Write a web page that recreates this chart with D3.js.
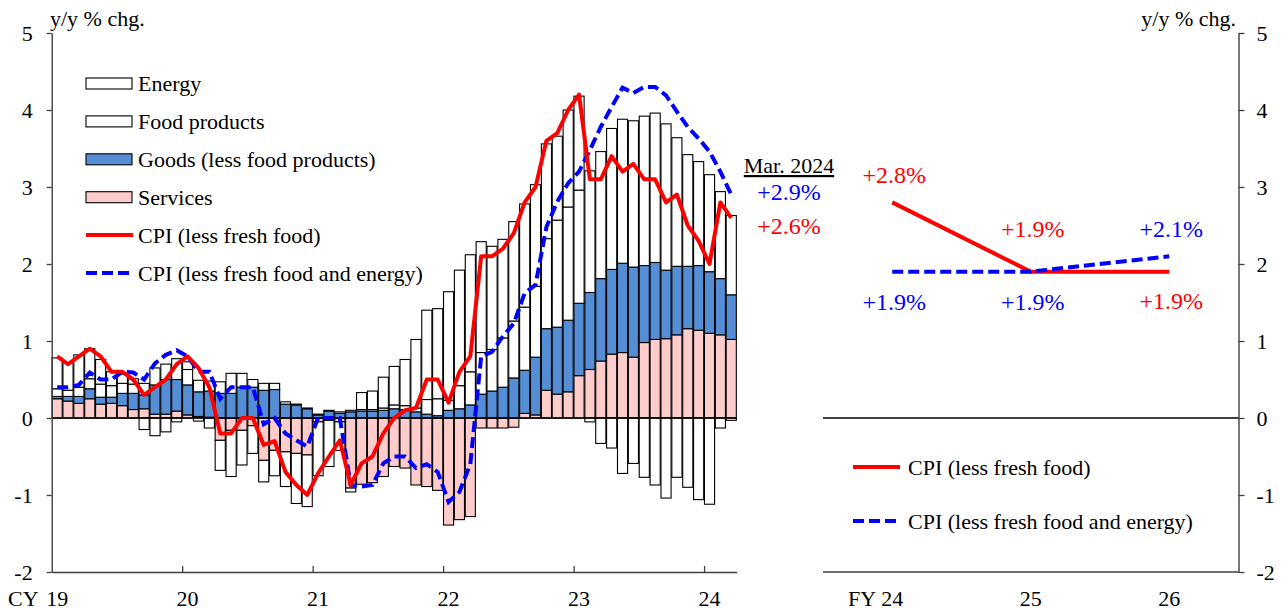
<!DOCTYPE html>
<html><head><meta charset="utf-8">
<script src="https://cdn.jsdelivr.net/npm/d3@7"></script>
<style>
body{margin:0;background:#fff;}
svg{display:block;font-family:"Liberation Serif","Times New Roman",serif;}
svg text{font-family:"Liberation Serif","Times New Roman",serif;}
</style>
</head><body>
<svg id="c" width="1282" height="612"></svg>
<script>
// ---------- DATA ----------
const months = d3.timeMonths(new Date(2019,0,1), new Date(2024,3,1)); // Jan 2019 .. Mar 2024
const yearLabels = ["19","20","21","22","23","24"];
const yTicks = [-2,-1,0,1,2,3,4,5];

const services = [0.25,0.22,0.19,0.25,0.18,0.19,0.16,0.11,0.12,0.05,0.05,0.09,
  0.04,0.02,0.01,-0.29,-0.16,-0.16,-0.10,-0.55,-0.42,-0.44,-0.46,-0.48,
  -0.05,-0.03,-0.05,-0.91,-0.86,-0.84,-0.76,-0.63,-0.65,-0.87,-0.89,-0.94,
  -1.39,-1.32,-1.28,-0.13,-0.13,-0.13,-0.12,0.06,0.04,0.36,0.31,0.34,
  0.55,0.63,0.74,0.83,0.85,0.79,0.98,1.02,1.03,1.08,1.16,1.14,
  1.10,1.08,1.02];
const goods = [0.03,0.06,0.09,0.13,0.09,0.08,0.16,0.21,0.18,0.38,0.45,0.41,
  0.39,0.32,0.34,0.32,0.32,0.40,0.40,0.36,0.37,0.18,0.17,0.12,
  0.04,0.09,0.06,0.08,0.09,0.09,0.10,0.12,0.11,0.08,0.05,0.03,
  0.10,0.12,0.17,0.31,0.35,0.40,0.52,0.56,0.75,0.80,0.87,0.93,
  0.94,1.00,1.07,1.10,1.16,1.17,1.00,1.00,0.89,0.89,0.81,0.84,
  0.80,0.73,0.58];
const food = [0.10,0.08,0.12,0.13,0.17,0.15,0.13,0.12,0.15,0.22,0.20,0.27,
  0.20,0.15,0.13,0.15,0.26,0.18,0.10,0.09,0.08,0.03,0.01,0.01,
  0.01,0.01,0.02,0.02,0.02,0.02,0.03,0.05,0.05,0.05,0.19,0.22,
  0.13,0.30,0.43,0.54,0.54,0.64,0.74,0.82,0.92,1.17,1.39,1.47,
  1.47,1.58,1.65,1.83,1.87,1.90,1.94,1.94,1.90,1.67,1.45,1.35,
  1.26,1.13,1.03];
const energy = [0.40,0.36,0.42,0.39,0.32,0.18,0.12,0.07,-0.15,-0.23,-0.18,-0.05,
  0.10,-0.04,-0.13,-0.39,-0.60,-0.45,-0.36,-0.28,-0.33,-0.45,-0.65,-0.67,
  -0.70,-0.60,-0.37,-0.05,0.22,0.24,0.40,0.50,0.60,0.89,1.16,1.17,
  1.41,1.50,1.52,1.44,1.34,1.28,1.29,1.34,1.32,1.23,1.09,1.26,
  1.22,-0.05,-0.33,-0.39,-0.72,-0.59,-0.77,-0.87,-1.04,-0.77,-0.90,-1.06,
  -1.12,-0.13,-0.03];
const cpiCore = [0.8,0.7,0.8,0.9,0.8,0.6,0.6,0.5,0.3,0.4,0.5,0.7,
  0.8,0.65,0.4,-0.2,-0.2,0.0,0.0,-0.35,-0.3,-0.7,-0.87,-1.0,
  -0.72,-0.5,-0.29,-0.87,-0.59,-0.5,-0.2,0.0,0.1,0.13,0.5,0.5,
  0.2,0.6,0.8,2.1,2.1,2.2,2.4,2.8,3.0,3.6,3.7,4.0,
  4.2,3.1,3.1,3.4,3.2,3.3,3.1,3.1,2.8,2.9,2.5,2.3,
  2.0,2.8,2.6];
const cpiCoreCore = [0.4,0.4,0.43,0.59,0.5,0.5,0.6,0.59,0.5,0.71,0.82,0.88,
  0.8,0.6,0.6,0.25,0.4,0.4,0.4,-0.08,0.0,-0.2,-0.29,-0.37,
  0.0,0.0,0.0,-0.87,-0.89,-0.87,-0.59,-0.5,-0.5,-0.65,-0.6,-0.7,
  -1.09,-0.96,-0.6,0.8,0.86,1.06,1.23,1.62,1.73,2.48,2.81,3.05,
  3.2,3.48,3.78,4.04,4.29,4.22,4.30,4.30,4.19,3.98,3.78,3.63,
  3.46,3.2,2.9];

const fyCats = ["24","25","26"];
const fyCore = [2.8,1.9,1.9];
const fyCoreCore = [1.9,1.9,2.1];

const seriesKeys = ["services","goods","food","energy"];
const legendLabels = ["Energy","Food products","Goods (less food products)","Services",
  "CPI (less fresh food)","CPI (less fresh food and energy)"];

// ---------- STYLE ----------
const colors = {services:"#FFCCCC", goods:"#558ED5", food:"#FFFFFF", energy:"#FFFFFF"};
const RED = "#FF0000", BLUE = "#0000FF", AXIS = "#404040";
const FONT = "Liberation Serif, Times New Roman, serif";
const FS = 22, FSP = 24;
const DASH = "11,5";

const svg = d3.select("#c").attr("font-family", FONT);

// ---------- SCALES ----------
const y = d3.scaleLinear().domain([-2,5]).range([572,33]);
const x = d3.scaleBand().domain(d3.range(months.length)).range([51.7,736.7])
  .paddingInner(0.07).paddingOuter(0.035);
const xLin = d3.scaleLinear().domain([0, months.length]).range([51.7,736.7]);
const xr = d3.scaleBand().domain(fyCats).range([823,1238.5]);
const cx = i => x(i) + x.bandwidth()/2;
const cxr = c => xr(c) + xr.bandwidth()/2;

// ---------- BARS ----------
const rows = months.map((m,i)=>({services:services[i],goods:goods[i],food:food[i],energy:energy[i]}));
const stacked = d3.stack().keys(seriesKeys).offset(d3.stackOffsetDiverging)(rows);

const barG = svg.append("g");
stacked.forEach(s=>{
  barG.selectAll(null).data(s.map((d,i)=>({d0:d[0],d1:d[1],i}))
      .filter(d=>Math.abs(d.d1-d.d0)>0.001))
    .join("rect")
    .attr("x", d=>x(d.i))
    .attr("width", x.bandwidth())
    .attr("y", d=>y(Math.max(d.d0,d.d1)))
    .attr("height", d=>Math.abs(y(d.d0)-y(d.d1)))
    .attr("fill", colors[s.key])
    .attr("stroke","#000")
    .attr("stroke-width",1.1);
});

// zero lines
svg.append("line").attr("x1",51.7).attr("x2",736.7).attr("y1",y(0)).attr("y2",y(0))
  .attr("stroke","#000").attr("stroke-width",1.6);
svg.append("line").attr("x1",823).attr("x2",1238.5).attr("y1",y(0)).attr("y2",y(0))
  .attr("stroke","#000").attr("stroke-width",1.3);

// ---------- LINES ----------
const line = d3.line().x((d,i)=>cx(i)).y(d=>y(d));
svg.append("path").datum(cpiCoreCore).attr("d",line).attr("fill","none")
  .attr("stroke",BLUE).attr("stroke-width",4).attr("stroke-dasharray",DASH);
svg.append("path").datum(cpiCore).attr("d",line).attr("fill","none")
  .attr("stroke",RED).attr("stroke-width",4).attr("stroke-linejoin","round");

const lineR = d3.line().x((d,i)=>cxr(fyCats[i])).y(d=>y(d));
svg.append("path").datum(fyCore).attr("d",lineR).attr("fill","none")
  .attr("stroke",RED).attr("stroke-width",4);
svg.append("path").datum(fyCoreCore).attr("d",lineR).attr("fill","none")
  .attr("stroke",BLUE).attr("stroke-width",4).attr("stroke-dasharray",DASH);

// ---------- AXES ----------
function styleAxis(g){
  g.attr("font-family",FONT).attr("font-size",FS);
  g.select(".domain").attr("stroke",AXIS).attr("stroke-width",1.4);
  g.selectAll(".tick line").attr("stroke",AXIS).attr("stroke-width",1.3);
  g.selectAll("text").attr("fill","#000");
}
svg.append("g").attr("transform","translate(51.7,0)")
  .call(d3.axisLeft(y).tickValues(yTicks).tickSize(5).tickSizeOuter(0).tickPadding(14).tickFormat(d=>String(d)))
  .call(styleAxis);
svg.append("g").attr("transform","translate(1238.5,0)")
  .call(d3.axisRight(y).tickValues(yTicks).tickSize(6).tickSizeOuter(0).tickPadding(12).tickFormat(d=>String(d)))
  .call(styleAxis);
svg.append("g").attr("transform","translate(0,572)")
  .call(d3.axisBottom(xLin).tickValues(d3.range(12, months.length, 12)).tickSize(-6).tickSizeOuter(0).tickFormat(""))
  .call(styleAxis);
svg.append("line").attr("x1",823).attr("x2",1238.5).attr("y1",572).attr("y2",572)
  .attr("stroke",AXIS).attr("stroke-width",1.4);

// x labels
const labG = svg.append("g").attr("font-size",FS).attr("font-family",FONT);
labG.selectAll(null).data(yearLabels).join("text")
  .attr("x",(d,k)=>cx(k*12)).attr("y",606).attr("text-anchor","middle").text(d=>d);
labG.append("text").attr("x",8).attr("y",606).text("CY");
labG.selectAll(null).data(fyCats).join("text")
  .attr("x",d=>cxr(d)).attr("y",606).attr("text-anchor","middle").text(d=>d);
labG.append("text").attr("x",848).attr("y",606).text("FY");

// unit labels
labG.append("text").attr("x",50).attr("y",26).text("y/y % chg.");
labG.append("text").attr("x",1236).attr("y",26).attr("text-anchor","end").text("y/y % chg.");

// ---------- LEGEND (left) ----------
const legG = svg.append("g").attr("font-size",FS).attr("font-family",FONT);
const legFill = [colors.energy, colors.food, colors.goods, colors.services];
legendLabels.forEach((lab,i)=>{
  const cy = 83.5 + 37.9*i;
  if(i<4){
    legG.append("rect").attr("x",86).attr("y",cy-5.5).attr("width",46).attr("height",11)
      .attr("fill",legFill[i]).attr("stroke","#000").attr("stroke-width",1.1);
  } else {
    legG.append("line").attr("x1",86).attr("x2",133).attr("y1",cy).attr("y2",cy)
      .attr("stroke", i===4?RED:BLUE).attr("stroke-width",4)
      .attr("stroke-dasharray", i===4?null:DASH);
  }
  legG.append("text").attr("x",138).attr("y",cy+7.5).text(lab);
});

// ---------- LEGEND (right) ----------
[[4,467],[5,521]].forEach(([i,cy])=>{
  legG.append("line").attr("x1",853).attr("x2",900).attr("y1",cy).attr("y2",cy)
    .attr("stroke", i===4?RED:BLUE).attr("stroke-width",4)
    .attr("stroke-dasharray", i===4?null:DASH);
  legG.append("text").attr("x",908).attr("y",cy+7.5).text(legendLabels[i]);
});

// ---------- ANNOTATIONS ----------
const pct = v => "+" + d3.format(".1f")(v) + "%";
const annG = svg.append("g").attr("font-family",FONT);
annG.append("text").attr("x",789).attr("y",173).attr("text-anchor","middle")
  .attr("font-size",FS).attr("text-decoration","underline").text("Mar. 2024");
annG.append("text").attr("x",789).attr("y",200).attr("text-anchor","middle")
  .attr("font-size",FSP).attr("fill",BLUE).text(pct(cpiCoreCore[cpiCoreCore.length-1]));
annG.append("text").attr("x",789).attr("y",234).attr("text-anchor","middle")
  .attr("font-size",FSP).attr("fill",RED).text(pct(cpiCore[cpiCore.length-1]));

const redOff = [-19,-35,37];
const blueOff = [38,38,-19];
fyCats.forEach((c,i)=>{
  annG.append("text").attr("x",cxr(c)+2).attr("y",y(fyCore[i])+redOff[i]).attr("text-anchor","middle")
    .attr("font-size",FSP).attr("fill",RED).text(pct(fyCore[i]));
  annG.append("text").attr("x",cxr(c)+2).attr("y",y(fyCoreCore[i])+blueOff[i]).attr("text-anchor","middle")
    .attr("font-size",FSP).attr("fill",BLUE).text(pct(fyCoreCore[i]));
});
</script>
</body></html>
